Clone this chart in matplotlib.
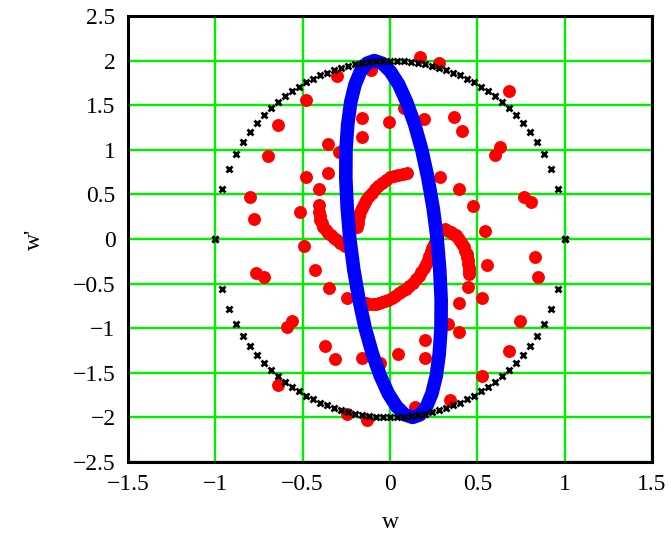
import matplotlib
matplotlib.use("Agg")
import matplotlib.pyplot as plt

# Reference contour: crosses on w'^2/4 + w^2 = 1, upper and lower halves
cross_w = [-1.00, -0.96, -0.92, -0.88, -0.84, -0.80, -0.76, -0.72, -0.68, -0.64,
           -0.60, -0.56, -0.52, -0.48, -0.44, -0.40, -0.36, -0.32, -0.28, -0.24,
           -0.20, -0.16, -0.12, -0.08, -0.04, 0.00, 0.04, 0.08, 0.12, 0.16,
           0.20, 0.24, 0.28, 0.32, 0.36, 0.40, 0.44, 0.48, 0.52, 0.56,
           0.60, 0.64, 0.68, 0.72, 0.76, 0.80, 0.84, 0.88, 0.92, 0.96, 1.00]
cross_wp_upper = [0.000, 0.560, 0.784, 0.950, 1.085, 1.200, 1.300, 1.388, 1.466, 1.537,
                  1.600, 1.657, 1.708, 1.755, 1.796, 1.833, 1.866, 1.895, 1.920, 1.942,
                  1.960, 1.974, 1.986, 1.994, 1.998, 2.000, 1.998, 1.994, 1.986, 1.974,
                  1.960, 1.942, 1.920, 1.895, 1.866, 1.833, 1.796, 1.755, 1.708, 1.657,
                  1.600, 1.537, 1.466, 1.388, 1.300, 1.200, 1.085, 0.950, 0.784, 0.560, 0.000]
cross_wp_lower = [0.000, -0.560, -0.784, -0.950, -1.085, -1.200, -1.300, -1.388, -1.466, -1.537,
                  -1.600, -1.657, -1.708, -1.755, -1.796, -1.833, -1.866, -1.895, -1.920, -1.942,
                  -1.960, -1.974, -1.986, -1.994, -1.998, -2.000, -1.998, -1.994, -1.986, -1.974,
                  -1.960, -1.942, -1.920, -1.895, -1.866, -1.833, -1.796, -1.755, -1.708, -1.657,
                  -1.600, -1.537, -1.466, -1.388, -1.300, -1.200, -1.085, -0.950, -0.784, -0.560, 0.000]

# Tilted orbit (closed curve)
orbit_w = [0.270, 0.247, 0.217, 0.182, 0.141, 0.096, 0.050, 0.002, -0.045, -0.090,
           -0.132, -0.169, -0.200, -0.225, -0.242, -0.252, -0.253, -0.245, -0.230,
           -0.207, -0.177, -0.142, -0.101, -0.056, -0.010, 0.038, 0.085, 0.130,
           0.172, 0.209, 0.240, 0.265, 0.282, 0.292, 0.293, 0.285, 0.270]
orbit_wp = [0.000, 0.348, 0.684, 1.000, 1.286, 1.532, 1.732, 1.879, 1.970, 2.000,
            1.970, 1.879, 1.732, 1.532, 1.286, 1.000, 0.684, 0.348, 0.000,
            -0.348, -0.684, -1.000, -1.286, -1.532, -1.732, -1.879, -1.970, -2.000,
            -1.970, -1.879, -1.732, -1.532, -1.286, -1.000, -0.684, -0.348, 0.000]

# Scattered samples
dots_w = [0.171, 0.280, -0.303, 0.680, -0.480, -0.640, -0.160, -0.160, -0.006, 0.194,
          0.080, 0.366, 0.410, -0.354, -0.700, 0.630, 0.600, -0.480, -0.354, 0.286,
          -0.406, 0.394, -0.800, 0.766, 0.810, -0.406, 0.474, -0.780, -0.514, 0.543,
          -0.490, 0.830, 0.554, -0.430, -0.770, -0.720, 0.846, -0.350, 0.526, -0.246,
          0.394, -0.560, -0.590, 0.743, 0.200, 0.394, -0.370, -0.314, 0.680, 0.200,
          0.046, -0.160, 0.526, -0.640, 0.343, -0.246, -0.131, 0.143, -0.057, 0.330,
          -0.290, -0.110, 0.446]
dots_wp = [2.04, 1.97, 1.83, 1.66, 1.56, 1.28, 1.36, 1.14, 1.31, 1.35,
           1.47, 1.37, 1.21, 1.07, 0.93, 1.03, 0.94, 0.70, 0.74, 0.70,
           0.56, 0.56, 0.47, 0.47, 0.41, 0.38, 0.37, 0.22, 0.30, 0.09,
           -0.08, -0.20, -0.29, -0.35, -0.38, -0.43, -0.43, -0.55, -0.66, -0.66,
           -0.72, -0.92, -0.99, -0.92, -1.13, -1.04, -1.20, -1.35, -1.26, -1.33,
           -1.29, -1.33, -1.54, -1.64, -1.81, -1.96, -2.03, -1.88, -1.39, -0.95,
           0.98, 1.90, -0.54]

# Dense inner arcs of samples
arc_a_w = [0.097, 0.072, 0.046, 0.023, 0.000, -0.023, -0.046, -0.066, -0.086, -0.103,
           -0.120, -0.135, -0.149, -0.160, -0.171, -0.177, -0.183, -0.186, -0.189]
arc_a_wp = [0.74, 0.73, 0.72, 0.705, 0.69, 0.66, 0.63, 0.595, 0.56, 0.52,
            0.48, 0.435, 0.39, 0.345, 0.30, 0.26, 0.22, 0.175, 0.13]
arc_b_w = [-0.406, -0.403, -0.400, -0.392, -0.383, -0.369, -0.354, -0.337, -0.320,
           -0.303, -0.286, -0.271, -0.257]
arc_b_wp = [0.30, 0.255, 0.21, 0.175, 0.14, 0.105, 0.07, 0.04, 0.01,
            -0.015, -0.04, -0.06, -0.08]
arc_c_w = [0.314, 0.332, 0.349, 0.363, 0.377, 0.389, 0.400, 0.412, 0.423, 0.432,
           0.440, 0.443, 0.446, 0.449, 0.451, 0.451, 0.451]
arc_c_wp = [0.11, 0.095, 0.08, 0.06, 0.04, 0.01, -0.02, -0.055, -0.09, -0.13,
            -0.17, -0.205, -0.24, -0.28, -0.32, -0.355, -0.39]
arc_d_w = [0.251, 0.243, 0.234, 0.226, 0.217, 0.206, 0.194, 0.180, 0.166, 0.149, 0.131,
           0.111, 0.091, 0.071, 0.051, 0.031, 0.011, -0.009, -0.029, -0.046, -0.063,
           -0.082, -0.100, -0.120, -0.140]
arc_d_wp = [-0.06, -0.10, -0.14, -0.185, -0.23, -0.275, -0.32, -0.365, -0.41, -0.45, -0.49,
            -0.525, -0.56, -0.585, -0.61, -0.635, -0.66, -0.68, -0.70, -0.71, -0.72,
            -0.725, -0.73, -0.725, -0.72]

x_ticks = [-1.5, -1, -0.5, 0, 0.5, 1, 1.5]
x_tick_labels = ["\u22121.5", "\u22121", "\u22120.5", "0", "0.5", "1", "1.5"]
y_ticks = [-2.5, -2, -1.5, -1, -0.5, 0, 0.5, 1, 1.5, 2, 2.5]
y_tick_labels = ["\u22122.5", "\u22122", "\u22121.5", "\u22121", "\u22120.5", "0",
                 "0.5", "1", "1.5", "2", "2.5"]

plt.rcParams["font.family"] = ["Liberation Serif", "DejaVu Serif"]

fig = plt.figure(figsize=(6.71, 5.34), dpi=100)
ax = fig.add_axes([128 / 671, 72 / 534, 524 / 671, 446 / 534])

ax.set_xlim(-1.5, 1.5)
ax.set_ylim(-2.5, 2.5)
ax.set_xticks(x_ticks)
ax.set_xticklabels(x_tick_labels)
ax.set_yticks(y_ticks)
ax.set_yticklabels(y_tick_labels)
ax.tick_params(length=0, labelsize=17, pad=9)
ax.grid(True, color="#00ee00", linewidth=1.7)
ax.set_axisbelow(True)
for s in ax.spines.values():
    s.set_linewidth(2.2)
    s.set_color("black")

red = "#ff0000"
ax.plot(dots_w, dots_wp, "o", color=red, ms=9.3, mew=0, zorder=3)
for aw, awp in [(arc_a_w, arc_a_wp), (arc_b_w, arc_b_wp), (arc_c_w, arc_c_wp), (arc_d_w, arc_d_wp)]:
    ax.plot(aw, awp, "o", color=red, ms=9.3, mew=0, zorder=3)

ax.plot(orbit_w, orbit_wp, "-", color="#0000ff", lw=9.8,
        solid_joinstyle="round", solid_capstyle="round", zorder=4)

ax.plot(cross_w, cross_wp_upper, "x", color="black", ms=4.2, mew=2.0, zorder=5)
ax.plot(cross_w, cross_wp_lower, "x", color="black", ms=4.2, mew=2.0, zorder=5)

ax.set_xlabel("w", fontsize=17, labelpad=12)
ax.set_ylabel("w'", fontsize=17, labelpad=20)

fig.savefig("out.png", dpi=100)
